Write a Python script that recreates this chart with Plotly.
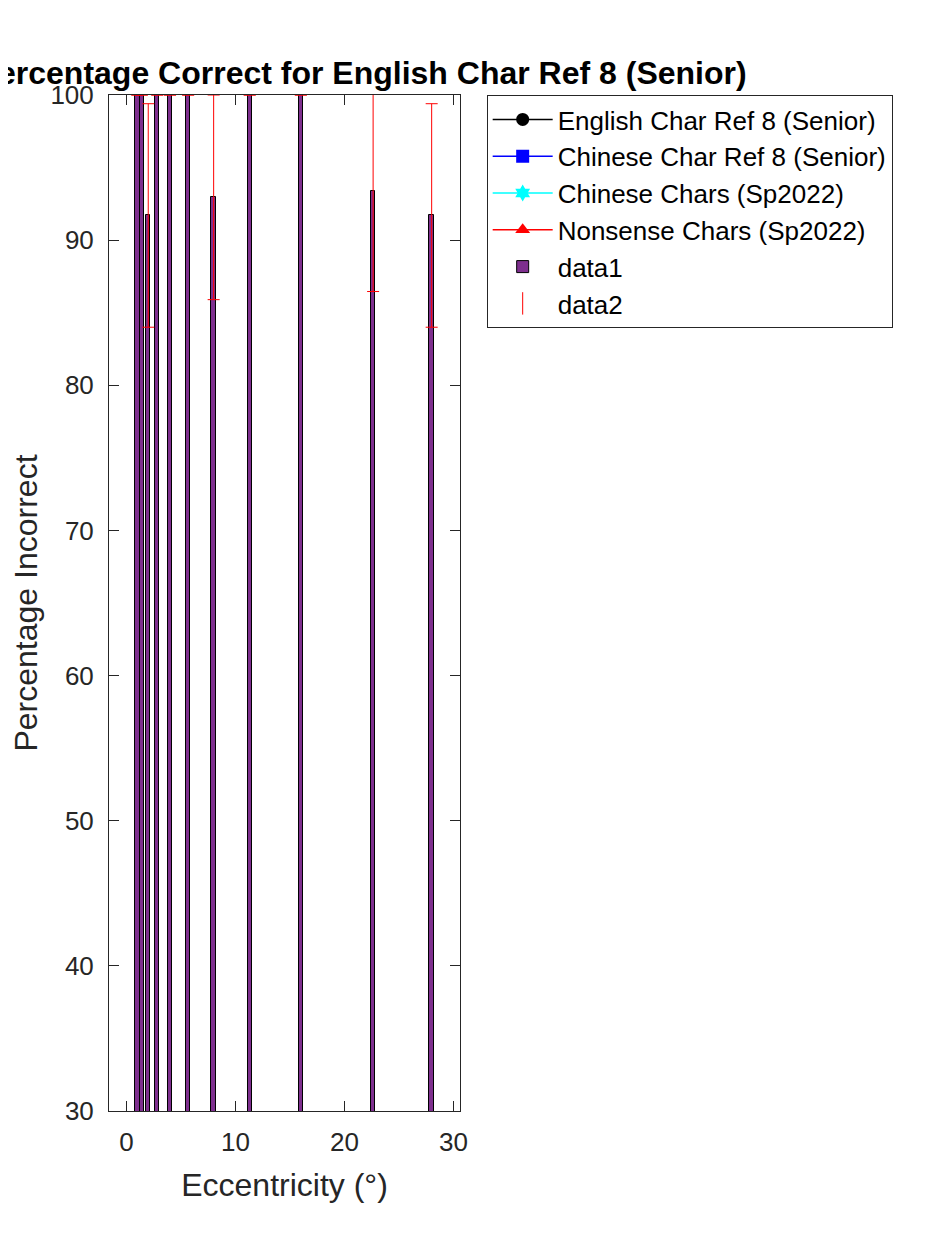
import plotly.graph_objects as go

# eccentricity (deg), percentage incorrect, error
ecc = [1, 1.41, 2, 2.83, 4, 5.66, 8, 11.31, 16, 22.63, 28]
pct = [100, 100, 91.7, 100, 100, 100, 92.95, 100, 100, 93.36, 91.7]
err = [0, 0, 7.7, 0, 0, 0, 7.05, 0, 0, 6.9, 7.7]

line_names = ["English Char Ref 8 (Senior)", "Chinese Char Ref 8 (Senior)",
              "Chinese Chars (Sp2022)", "Nonsense Chars (Sp2022)"]
line_colors = ["black", "blue", "cyan", "red"]
line_symbols = ["circle", "square", "hexagram", "triangle-up"]

axcol = "#262626"
fnt = "Liberation Sans, Arial, sans-serif"

fig = go.Figure()

# curves that end up outside the shown y range - only their legend shows
for name, col, sym in zip(line_names, line_colors, line_symbols):
    fig.add_trace(go.Scatter(
        x=[None], y=[None], name=name, mode="lines+markers",
        line=dict(color=col, width=1.5),
        marker=dict(symbol=sym, color=col, size=13)))

fig.add_trace(go.Bar(
    x=ecc, y=pct, name="data1", width=0.4,
    marker=dict(color="#7E2F8E", line=dict(color="black", width=1))))

fig.add_trace(go.Scatter(
    x=ecc, y=pct, name="data2", mode="markers",
    marker=dict(symbol="line-ns-open", size=16, color="red",
                line=dict(color="red", width=1)),
    selectedpoints=[], unselected=dict(marker=dict(opacity=0)),
    error_y=dict(type="data", array=err, visible=True,
                 color="red", thickness=1, width=6)))

fig.update_layout(
    width=938, height=1250,
    paper_bgcolor="white", plot_bgcolor="white",
    margin=dict(l=99, r=486, t=87, b=147),
    font=dict(family=fnt, color=axcol),
    title=dict(text="<b>Percentage Correct for English Char Ref 8 (Senior)</b>",
               font=dict(size=32, color="black", family=fnt),
               xref="container", x=0.377, xanchor="center",
               yref="container", y=0.948, yanchor="middle"),
    showlegend=True,
    legend=dict(x=1.076, y=1, xanchor="left", yanchor="top",
                font=dict(size=26, color="black", family=fnt),
                bgcolor="white", bordercolor=axcol, borderwidth=1,
                tracegroupgap=0, itemwidth=60),
    bargap=0,
)

fig.update_xaxes(
    range=[-1.6, 30.6], tickvals=[0, 10, 20, 30],
    title=dict(text="Eccentricity (°)", font=dict(size=32, color=axcol), standoff=17),
    tickfont=dict(size=26, color=axcol), ticklabelstandoff=8,
    showline=True, linecolor=axcol, linewidth=1, mirror="allticks",
    ticks="inside", ticklen=10, tickcolor=axcol, showgrid=False, zeroline=False)

fig.update_yaxes(
    range=[30, 100], tickvals=[30, 40, 50, 60, 70, 80, 90, 100],
    title=dict(text="Percentage Incorrect", font=dict(size=32, color=axcol), standoff=8),
    tickfont=dict(size=26, color=axcol), ticklabelstandoff=9,
    showline=True, linecolor=axcol, linewidth=1, mirror="allticks",
    ticks="inside", ticklen=10, tickcolor=axcol, showgrid=False, zeroline=False)

fig.write_html("out.html")
